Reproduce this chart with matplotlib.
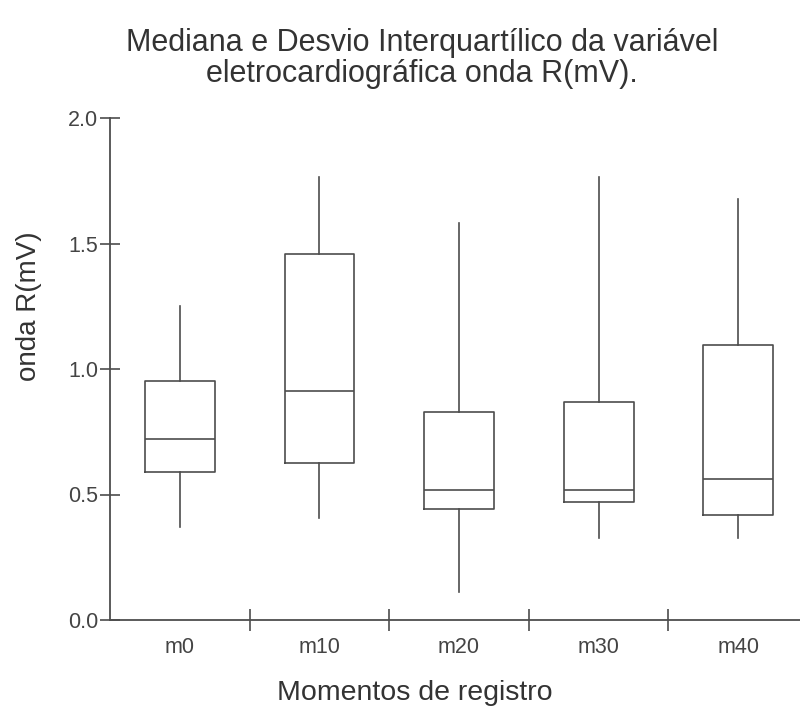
import matplotlib
matplotlib.use("Agg")
import matplotlib.pyplot as plt

categories = ["m0", "m10", "m20", "m30", "m40"]
whisker_low = [0.371, 0.405, 0.110, 0.328, 0.328]
q1 = [0.590, 0.624, 0.442, 0.469, 0.420]
median = [0.722, 0.911, 0.519, 0.519, 0.562]
q3 = [0.953, 1.458, 0.827, 0.869, 1.096]
whisker_high = [1.251, 1.764, 1.580, 1.764, 1.679]
yticks = [0.0, 0.5, 1.0, 1.5, 2.0]

plt.rcParams['font.family'] = ['Liberation Sans', 'DejaVu Sans']
W, H = 800, 706
fig = plt.figure(figsize=(W / 100, H / 100), dpi=100)
left, right, bottom, top = 110, 808, 620, 118
ax = fig.add_axes([left / W, (H - bottom) / H, (right - left) / W, (bottom - top) / H])

stats = []
for i, c in enumerate(categories):
    stats.append(dict(label=c, whislo=whisker_low[i], q1=q1[i], med=median[i],
                      q3=q3[i], whishi=whisker_high[i], fliers=[]))

lc = '#4d4d4d'
lw = 1.2
ax.bxp(stats, positions=range(len(categories)), widths=0.5, showcaps=False,
       boxprops=dict(color=lc, linewidth=lw),
       whiskerprops=dict(color=lc, linewidth=lw),
       medianprops=dict(color=lc, linewidth=lw))

ax.set_xlim(-0.5, len(categories) - 0.5)
ax.set_ylim(0, 2.0)
ax.set_yticks(yticks)
ax.set_yticklabels([f"{v:.1f}" for v in yticks])
ax.set_xticks([i + 0.5 for i in range(len(categories) - 1)])
ax.set_xticklabels([])
ax.set_xticks(range(len(categories)), minor=True)
ax.set_xticklabels(categories, minor=True)
ax.tick_params(axis='x', which='major', direction='inout', length=16, width=1.2, color=lc)
ax.tick_params(axis='x', which='minor', length=0, pad=12, labelsize=15.5, labelcolor='#444444')
ax.tick_params(axis='y', direction='inout', length=15, width=1.2, color=lc, pad=1,
               labelsize=15.5, labelcolor='#444444')
for s in ['top', 'right']:
    ax.spines[s].set_visible(False)
for s in ['left', 'bottom']:
    ax.spines[s].set_color(lc)
    ax.spines[s].set_linewidth(1.3)

fig.text(422 / W, 1 - 51 / H, "Mediana e Desvio Interquartílico da variável",
         ha='center', va='baseline', fontsize=22, color='#333333')
fig.text(422 / W, 1 - 82 / H, "eletrocardiográfica onda R(mV).",
         ha='center', va='baseline', fontsize=22, color='#333333')
fig.text(415 / W, 1 - 700 / H, "Momentos de registro", ha='center', va='baseline',
         fontsize=20.5, color='#333333')
fig.text(36 / W, 1 - 306 / H, "onda R(mV)", ha='center', va='baseline', rotation=90,
         rotation_mode='anchor', fontsize=20, color='#333333')

fig.savefig("out.png", dpi=100)
